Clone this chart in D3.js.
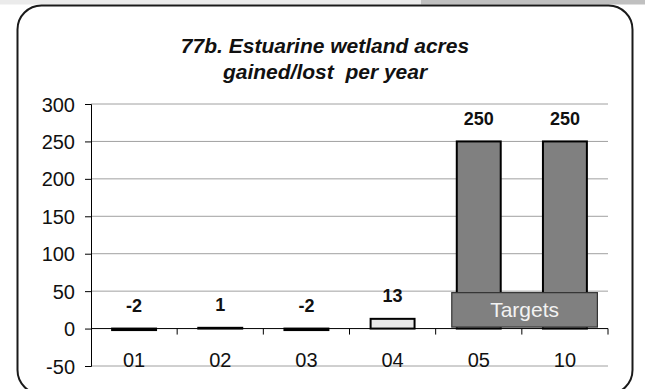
<!DOCTYPE html>
<html><head><meta charset="utf-8">
<script src="https://cdn.jsdelivr.net/npm/d3@7"></script>
<style>
html,body{margin:0;padding:0;background:#fff;}
svg{display:block;font-family:"Liberation Sans",Arial,sans-serif;}
text{white-space:pre;}
</style></head>
<body><svg id="c" width="645" height="389"></svg>
<script>
const categories = ["01","02","03","04","05","10"];
const values = [-2, 1, -2, 13, 250, 250];
const barKinds = ["actual","actual","actual","actual","target","target"];
const yTicks = [-50, 0, 50, 100, 150, 200, 250, 300];
const titleLines = ["77b. Estuarine wetland acres", "gained/lost  per year"];
const targetLabel = "Targets";

const svg = d3.select("#c");

// top strip
svg.append("rect").attr("x",0).attr("y",0).attr("width",421).attr("height",4.5).attr("fill","#ebebeb");
svg.append("rect").attr("x",421).attr("y",0).attr("width",224).attr("height",4.5).attr("fill","#c0c0c0");

// frame
svg.append("rect").attr("x",17.5).attr("y",5.5).attr("width",615).attr("height",388.5)
  .attr("rx",24).attr("ry",24).attr("fill","#fff").attr("stroke","#1a1a1a").attr("stroke-width",2);

// title
svg.append("g").selectAll("text").data(titleLines).join("text")
  .attr("x",325).attr("y",(d,i)=>53+i*25.5)
  .attr("text-anchor","middle").attr("font-size",21).attr("font-weight","bold").attr("font-style","italic")
  .attr("fill","#111").attr("xml:space","preserve").text(d=>d);

const x = d3.scaleBand().domain(categories).range([91,608]).paddingInner(0.49).paddingOuter(0.245);
const y = d3.scaleLinear().domain([-50,300]).range([366,104]);

// gridlines
svg.append("g").selectAll("line").data(yTicks.filter(t=>t!==0)).join("line")
  .attr("x1",91).attr("x2",608).attr("y1",d=>y(d)).attr("y2",d=>y(d))
  .attr("stroke","#a0a0a0").attr("stroke-width",1);

// y axis
const yAxis = svg.append("g").attr("transform","translate(91,0)")
  .call(d3.axisLeft(y).tickValues(yTicks).tickSize(6).tickPadding(10).tickFormat(d=>String(d)));
yAxis.select(".domain").attr("stroke","#000").attr("stroke-width",1);
yAxis.selectAll(".tick line").attr("stroke","#000");
yAxis.selectAll(".tick text").attr("font-size",20).attr("fill","#111")
  .attr("font-family","Liberation Sans, Arial, sans-serif").attr("dy","0.35em");

// bars
svg.append("g").selectAll("rect").data(values).join("rect")
  .attr("x",(d,i)=>x(categories[i]))
  .attr("width",x.bandwidth())
  .attr("y",d=>y(Math.max(d,0)))
  .attr("height",d=>Math.abs(y(d)-y(0)))
  .attr("fill",(d,i)=>barKinds[i]==="target"?"#808080":(d<=2?"#000":"#e8e8e8"))
  .attr("stroke","#000").attr("stroke-width",2);

// zero axis line & category ticks
svg.append("line").attr("x1",91).attr("x2",608).attr("y1",y(0)).attr("y2",y(0))
  .attr("stroke","#000").attr("stroke-width",1);
const step = x.step();
svg.append("g").selectAll("line").data(categories).join("line")
  .attr("x1",(d)=>x(d)-x.paddingOuter()*step+step).attr("x2",(d)=>x(d)-x.paddingOuter()*step+step)
  .attr("y1",y(0)).attr("y2",y(0)+6).attr("stroke","#000").attr("stroke-width",1);

// category labels
svg.append("g").selectAll("text").data(categories).join("text")
  .attr("x",d=>x(d)+x.bandwidth()/2).attr("y",367)
  .attr("text-anchor","middle").attr("font-size",20).attr("fill","#111").text(d=>d);

// value labels
svg.append("g").selectAll("text").data(values).join("text")
  .attr("x",(d,i)=>x(categories[i])+x.bandwidth()/2)
  .attr("y",d=>y(Math.max(d,0))-16.5)
  .attr("text-anchor","middle").attr("font-size",18).attr("font-weight","bold").attr("fill","#111")
  .text(d=>String(d));

// targets annotation
const tx0 = x("05")-5, tx1 = x("10")+x.bandwidth()+10.5;
svg.append("rect").attr("x",tx0).attr("y",y(48)).attr("width",tx1-tx0).attr("height",y(2)-y(48))
  .attr("fill","#808080").attr("stroke","#333").attr("stroke-width",1.2);
svg.append("text").attr("x",(tx0+tx1)/2).attr("y",316.5).attr("text-anchor","middle")
  .attr("font-size",21).attr("fill","#f2f2f2").text(targetLabel);
</script></body></html>
